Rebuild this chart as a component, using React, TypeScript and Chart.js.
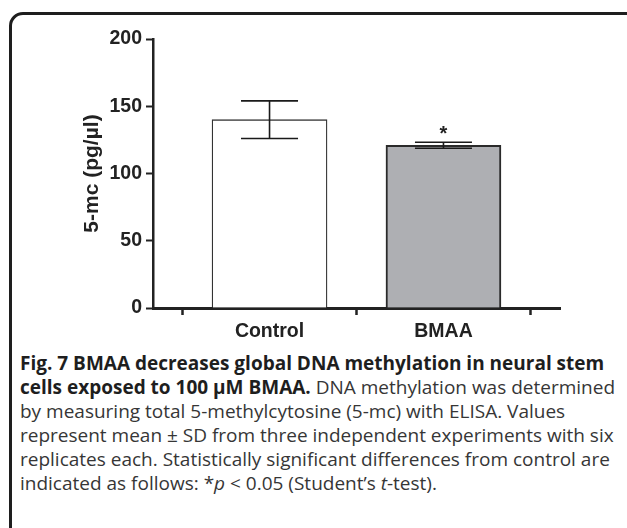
import React, { useEffect, useRef } from "react";
import { Chart, registerables } from "chart.js";

Chart.register(...registerables);

const categories = ["Control", "BMAA"];
const means = [140, 121];
const sds = [14, 2.2];
const significance = ["", "*"];
const barColors = ["#ffffff", "#aeafb3"];
const yTickValues = [0, 50, 100, 150, 200];
const yTitle = "5-mc (pg/µl)";

const axisFont = { family: "'Liberation Sans', Arial, sans-serif", size: 19.5, weight: "bold" as const };
const titleFont = { family: "'Liberation Sans', Arial, sans-serif", size: 21, weight: "bold" as const };

export default function App() {
  const ref = useRef<HTMLCanvasElement>(null);

  useEffect(() => {
    if (!ref.current) return;
    const errorPlugin = {
      id: "errorBars",
      afterDatasetsDraw(chart: any) {
        const { ctx, scales } = chart;
        const x = scales.x;
        const y = scales.y;
        ctx.save();
        ctx.strokeStyle = "#1a1a1a";
        ctx.lineWidth = 1.6;
        means.forEach((m, i) => {
          const cx = x.getPixelForValue(i);
          const top = y.getPixelForValue(m + sds[i]);
          const bot = y.getPixelForValue(m - sds[i]);
          const half = 28.5;
          ctx.beginPath();
          ctx.moveTo(cx, top);
          ctx.lineTo(cx, bot);
          ctx.moveTo(cx - half, top);
          ctx.lineTo(cx + half, top);
          ctx.moveTo(cx - half, bot);
          ctx.lineTo(cx + half, bot);
          ctx.stroke();
          if (significance[i]) {
            ctx.fillStyle = "#222";
            ctx.font = "bold 20px 'Liberation Sans', Arial, sans-serif";
            ctx.textAlign = "center";
            ctx.textBaseline = "alphabetic";
            ctx.fillText(significance[i], cx, top - 2);
          }
        });
        ctx.restore();
      },
    };

    const chart = new Chart(ref.current, {
      type: "bar",
      data: {
        datasets: [
          {
            data: means.map((m, i) => ({ x: i, y: m })),
            backgroundColor: barColors,
            borderColor: ["#333333", "#2a2a2a"],
            borderWidth: [1.3, 2],
            barThickness: 115,
          } as any,
        ],
      },
      options: {
        animation: false,
        responsive: false,
        events: [],
        layout: { padding: { left: 77, right: 67, top: 39, bottom: 0 } },
        plugins: { legend: { display: false }, tooltip: { enabled: false } },
        scales: {
          x: {
            type: "linear",
            min: -0.67,
            max: 1.67,
            offset: false,
            afterBuildTicks: (scale: any) => {
              scale.ticks = categories.map((_, i) => ({ value: i }));
            },
            afterFit: (scale: any) => {
              scale.height = 37;
            },
            ticks: {
              callback: (v: any) => categories[v] ?? "",
              font: axisFont,
              color: "#222",
              padding: 5,
              maxRotation: 0,
              autoSkip: false,
            },
            grid: {
              display: true,
              drawOnChartArea: false,
              drawTicks: true,
              tickLength: 7,
              tickColor: "#222",
              tickWidth: 2.5,
            },
            border: { display: true, color: "#222", width: 3 },
          },
          y: {
            type: "linear",
            min: 0,
            max: 200,
            afterBuildTicks: (scale: any) => {
              scale.ticks = yTickValues.map((v) => ({ value: v }));
            },
            afterFit: (scale: any) => {
              scale.width = 76;
            },
            ticks: { font: axisFont, color: "#222", padding: 4 },
            grid: {
              display: true,
              drawOnChartArea: false,
              drawTicks: true,
              tickLength: 7,
              tickColor: "#222",
              tickWidth: 2,
            },
            border: { display: true, color: "#222", width: 2.5 },
            title: {
              display: true,
              text: yTitle,
              font: titleFont,
              color: "#222",
              padding: { top: 3, bottom: 3 },
            },
          },
        },
      },
      plugins: [errorPlugin],
    });
    return () => chart.destroy();
  }, []);

  const captionBase: React.CSSProperties = {
    position: "absolute",
    left: 20,
    top: 351,
    fontFamily: "'Open Sans', 'Noto Sans', sans-serif",
    fontSize: 19,
    lineHeight: "24px",
    color: "#363636",
    whiteSpace: "nowrap",
  };

  return (
    <div style={{ position: "absolute", left: 0, top: 0, width: 627, height: 528, overflow: "hidden", background: "#fff" }}>
      <div
        style={{
          position: "absolute",
          left: 9,
          top: 12,
          width: 640,
          height: 530,
          border: "3px solid #1e1e1e",
          borderRadius: 14,
          boxSizing: "border-box",
        }}
      />
      <canvas ref={ref} width={627} height={345} style={{ position: "absolute", left: 0, top: 0, width: 627, height: 345 }} />
      <div style={captionBase}>
        <b style={{ fontWeight: 700, color: "#1e1e1e" }}>Fig. 7 BMAA decreases global DNA methylation in neural stem</b>
        <br />
        <b style={{ fontWeight: 700, color: "#1e1e1e" }}>cells exposed to 100 µM BMAA.</b> DNA methylation was determined
        <br />
        by measuring total 5-methylcytosine (5-mc) with ELISA. Values
        <br />
        represent mean ± SD from three independent experiments with six
        <br />
        replicates each. Statistically significant differences from control are
        <br />
        indicated as follows: *<i>p</i> &lt; 0.05 (Student’s <i>t</i>-test).
      </div>
    </div>
  );
}
